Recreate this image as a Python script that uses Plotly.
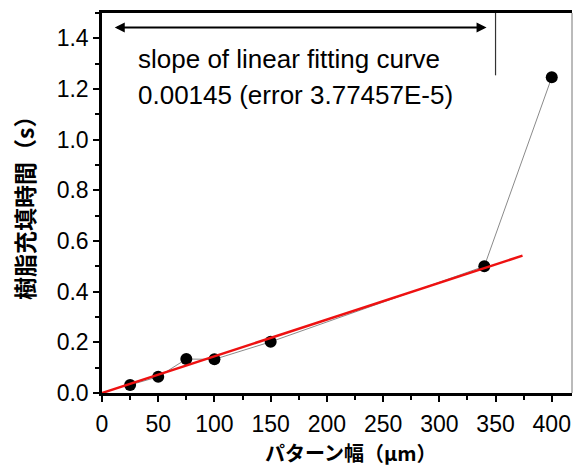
import plotly.graph_objects as go

# Data
pattern_width = [25, 50, 75, 100, 150, 340, 400]
fill_time = [0.032, 0.064, 0.134, 0.133, 0.202, 0.50, 1.246]
fit_x = [0, 374]
slope = 0.00145
fit_y = [slope * x for x in fit_x]

x_tick_vals = [0, 50, 100, 150, 200, 250, 300, 350, 400]
y_tick_vals = [0.0, 0.2, 0.4, 0.6, 0.8, 1.0, 1.2, 1.4]

latin = "Liberation Sans, Arial, sans-serif"
cjk = "Noto Sans CJK JP, sans-serif"

fig = go.Figure()
fig.add_trace(go.Scatter(x=pattern_width, y=fill_time, mode="lines+markers",
                         line=dict(color="#8a8a8a", width=1),
                         marker=dict(color="black", size=12), showlegend=False))
fig.add_trace(go.Scatter(x=fit_x, y=fit_y, mode="lines",
                         line=dict(color="#ee1111", width=2.5), showlegend=False))

fig.update_layout(
    width=573, height=469,
    margin=dict(l=102, r=1, t=13, b=76),
    paper_bgcolor="white", plot_bgcolor="white",
    font=dict(family=latin, color="black"),
    xaxis=dict(range=[0, 418], tickvals=x_tick_vals, ticktext=[str(v) for v in x_tick_vals],
               ticks="outside", ticklen=6, tickwidth=2, tickcolor="black",
               ticklabelstandoff=3,
               minor=dict(dtick=25, ticks="outside", ticklen=4, tickwidth=1.5, tickcolor="black"),
               showline=True, linewidth=2.5, linecolor="black", mirror=True,
               showgrid=False, zeroline=False,
               tickfont=dict(size=23, family=latin)),
    yaxis=dict(range=[0, 1.5], tickvals=y_tick_vals, ticktext=[f"{v:.1f}" for v in y_tick_vals],
               ticks="outside", ticklen=6, tickwidth=2, tickcolor="black",
               minor=dict(dtick=0.1, ticks="outside", ticklen=4, tickwidth=1.5, tickcolor="black"),
               showline=True, linewidth=2.5, linecolor="black",
               showgrid=False, zeroline=False,
               tickfont=dict(size=23, family=latin)),
)

# axis titles
fig.add_annotation(x=(351 - 102) / 470, y=-(452 - 393) / 380, xref="paper", yref="paper",
                   text="<b>パターン幅（μm）</b>", showarrow=False,
                   xanchor="center", yanchor="middle", borderpad=0,
                   font=dict(size=20, family=cjk, color="black"))
fig.add_annotation(x=-(102 - 24) / 470, y=0.5, xref="paper", yref="paper",
                   text="<b>樹脂充填時間（s）</b>", showarrow=False, textangle=-90,
                   xanchor="center", yanchor="middle",
                   font=dict(size=23, family=cjk, color="black"))

# right frame line
fig.add_shape(type="line", xref="paper", yref="paper", x0=1, x1=1, y0=0, y1=1,
              line=dict(color="#777777", width=1))
# vertical marker line
fig.add_shape(type="line", xref="x", yref="y", x0=350, x1=350, y0=1.254, y1=1.5,
              line=dict(color="#333333", width=1.2))
# double-headed arrow
fig.add_annotation(x=342, y=1.443, ax=10, ay=1.443, xref="x", yref="y", axref="x", ayref="y",
                   text="", showarrow=True, arrowhead=2, startarrowhead=2, arrowside="end+start",
                   arrowwidth=2, arrowsize=1, arrowcolor="black")
fig.add_annotation(x=30, y=1.32, xref="x", yref="y", text="slope of linear fitting curve",
                   showarrow=False, xanchor="left", yanchor="middle",
                   font=dict(size=26, family=latin, color="black"))
fig.add_annotation(x=30, y=1.175, xref="x", yref="y", text="0.00145 (error 3.77457E-5)",
                   showarrow=False, xanchor="left", yanchor="middle",
                   font=dict(size=26, family=latin, color="black"))

fig.write_html("out.html")
